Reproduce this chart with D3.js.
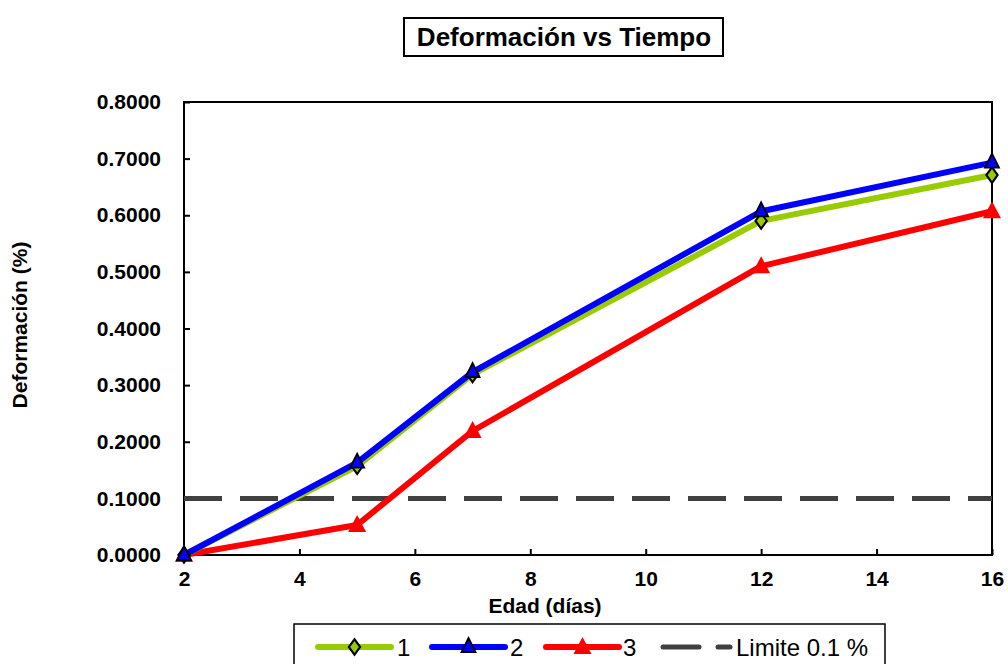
<!DOCTYPE html>
<html><head><meta charset="utf-8">
<script src="https://cdn.jsdelivr.net/npm/d3@7"></script>
<style>body{margin:0;background:#fff}svg{display:block;font-family:"Liberation Sans",Arial,sans-serif}</style>
</head><body><svg id="c" width="1008" height="664"></svg>
<script>
const edad = [2, 5, 7, 12, 16];
const serie1 = [0.0000, 0.1570, 0.3190, 0.5900, 0.6710];
const serie2 = [0.0000, 0.1630, 0.3230, 0.6070, 0.6930];
const serie3 = [0.0000, 0.0530, 0.2190, 0.5100, 0.6070];
const limite = 0.1;
const xTicks = [2, 4, 6, 8, 10, 12, 14, 16];
const yTicks = [0, 0.1, 0.2, 0.3, 0.4, 0.5, 0.6, 0.7, 0.8];
const seriesNames = ["1", "2", "3"];

const svg = d3.select("#c");
const L = 184, R = 992, T = 102, B = 555;
const x = d3.scaleLinear().domain([2, 16]).range([L, R]);
const y = d3.scaleLinear().domain([0, 0.8]).range([B, T]);

// frame
svg.append("rect").attr("x", L).attr("y", T).attr("width", R - L).attr("height", B - T)
  .attr("fill", "none").attr("stroke", "#000").attr("stroke-width", 2);

// axes
const yAxis = d3.axisRight(y).tickValues(yTicks).tickSize(6).tickFormat(d3.format(".4f"));
const gy = svg.append("g").attr("transform", `translate(${L},0)`).call(yAxis);
gy.attr("font-size", null).attr("font-family", null);
gy.select(".domain").remove();
gy.selectAll("line").attr("stroke", "#000").attr("stroke-width", 2);
gy.selectAll("text").attr("x", -23).attr("text-anchor", "end")
  .style("font-size", "21px").style("font-weight", "bold").attr("fill", "#000");

const xAxis = d3.axisTop(x).tickValues(xTicks).tickSize(6).tickFormat(d3.format("d"));
const gx = svg.append("g").attr("transform", `translate(0,${B})`).call(xAxis);
gx.attr("font-size", null).attr("font-family", null);
gx.select(".domain").remove();
gx.selectAll("line").attr("stroke", "#000").attr("stroke-width", 2);
gx.selectAll("text").attr("y", 16).attr("dy", "0.71em")
  .style("font-size", "21px").style("font-weight", "bold").attr("fill", "#000");

// limit line
svg.append("line").attr("x1", x(2)).attr("x2", x(16)).attr("y1", y(limite)).attr("y2", y(limite))
  .attr("stroke", "#404040").attr("stroke-width", 5).attr("stroke-dasharray", "38,18");

const line = d3.line().x((d, i) => x(edad[i])).y(d => y(d));
const cfg = [
  {data: serie1, color: "#99cc00", marker: "diamond"},
  {data: serie2, color: "#0000ff", marker: "triangle"},
  {data: serie3, color: "#ff0000", marker: "triangleR"}
];
function drawMarker(g, type, cx, cy) {
  if (type === "diamond") {
    g.append("path").attr("d", d3.symbol(d3.symbolDiamond, 70)()).attr("transform", `translate(${cx},${cy}) scale(1.25,1)`)
      .attr("fill", "#99cc00").attr("stroke", "#000").attr("stroke-width", 1.8);
  } else if (type === "triangle") {
    g.append("path").attr("d", "M0,-9 L7,5 L-7,5 Z").attr("transform", `translate(${cx},${cy})`)
      .attr("fill", "#0000ff").attr("stroke", "#000").attr("stroke-width", 1.8);
  } else {
    g.append("path").attr("d", "M0,-10 L9,7 L-9,7 Z").attr("transform", `translate(${cx},${cy})`)
      .attr("fill", "#ff0000");
  }
}
// draw order: red, green, blue (blue on top)
[2, 0, 1].forEach(k => {
  const c = cfg[k];
  svg.append("path").datum(c.data).attr("d", line).attr("fill", "none")
    .attr("stroke", c.color).attr("stroke-width", 6).attr("stroke-linejoin", "round");
});
[2, 0, 1].forEach(k => {
  const c = cfg[k];
  const g = svg.append("g");
  c.data.forEach((v, i) => drawMarker(g, c.marker, x(edad[i]), y(v)));
});

// title
svg.append("text").attr("x", 564).attr("y", 46).attr("text-anchor", "middle")
  .style("font-size", "26px").style("font-weight", "bold").text("Deformación vs Tiempo");
svg.append("rect").attr("x", 404).attr("y", 18).attr("width", 319).attr("height", 38)
  .attr("fill", "none").attr("stroke", "#000").attr("stroke-width", 2);

// axis titles
svg.append("text").attr("x", 545).attr("y", 613).attr("text-anchor", "middle")
  .style("font-size", "21px").style("font-weight", "bold").text("Edad (días)");
svg.append("text").attr("transform", "translate(27,325) rotate(-90)").attr("text-anchor", "middle")
  .style("font-size", "21px").style("font-weight", "bold").text("Deformación (%)");

// legend
svg.append("rect").attr("x", 294).attr("y", 624).attr("width", 591).attr("height", 50)
  .attr("fill", "#fff").attr("stroke", "#000").attr("stroke-width", 1.5);
const ly = 647;
const leg = [
  {x1: 318, x2: 391, tx: 397, k: 0},
  {x1: 432, x2: 505, tx: 510, k: 1},
  {x1: 546, x2: 619, tx: 623, k: 2}
];
leg.forEach(l => {
  const c = cfg[l.k];
  svg.append("line").attr("x1", l.x1).attr("x2", l.x2).attr("y1", ly).attr("y2", ly)
    .attr("stroke", c.color).attr("stroke-width", 6).attr("stroke-linecap", "round");
  drawMarker(svg.append("g"), c.marker, (l.x1 + l.x2) / 2, ly);
  svg.append("text").attr("x", l.tx).attr("y", ly + 9).style("font-size", "24px").text(seriesNames[l.k]);
});
svg.append("line").attr("x1", 663).attr("x2", 699).attr("y1", ly).attr("y2", ly)
  .attr("stroke", "#404040").attr("stroke-width", 5).attr("stroke-linecap", "round");
svg.append("line").attr("x1", 718).attr("x2", 730).attr("y1", ly).attr("y2", ly)
  .attr("stroke", "#404040").attr("stroke-width", 5).attr("stroke-linecap", "round");
svg.append("text").attr("x", 736).attr("y", ly + 9).style("font-size", "24px").text("Limite 0.1 %");
</script></body></html>
